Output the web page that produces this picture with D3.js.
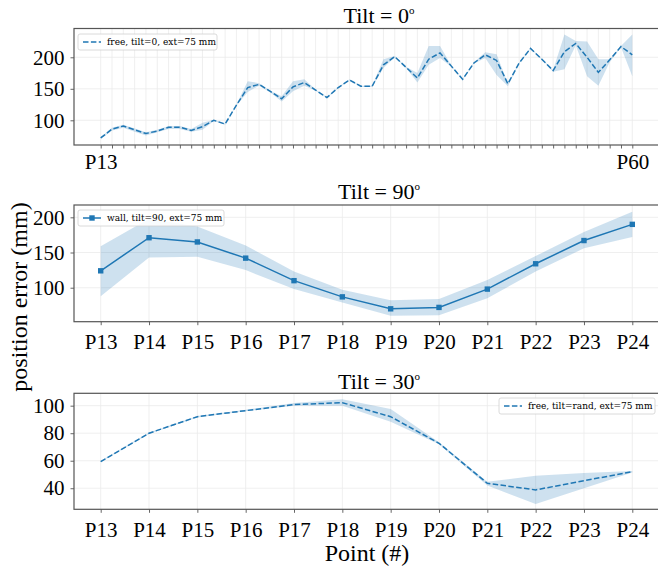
<!DOCTYPE html>
<html>
<head>
<meta charset="utf-8">
<script src="https://cdn.jsdelivr.net/npm/d3@7/dist/d3.min.js"></script>
<style>
  body { margin: 0; background: #fff; }
  svg { display: block; }
</style>
</head>
<body>
<svg id="chart" width="658" height="571"></svg>
<script>
"use strict";

// ---- data -------------------------------------------------------------
const pointsLong = ["P13","P14","P15","P16","P17","P18","P19","P20","P21","P22","P23","P24",
  "P25","P26","P27","P28","P29","P30","P31","P32","P33","P34","P35","P36",
  "P37","P38","P39","P40","P41","P42","P43","P44","P45","P46","P47","P48",
  "P49","P50","P51","P52","P53","P54","P55","P56","P57","P58","P59","P60"];
const pointsShort = ["P13","P14","P15","P16","P17","P18","P19","P20","P21","P22","P23","P24"];

// Tilt = 0 (free, dashed)
const tilt0Mean = [72, 86, 91, 85, 79, 83, 89, 89, 84, 90, 100, 94,
  124, 152, 157, 146, 134, 153, 160, 148, 136, 152, 164, 154,
  154, 188, 201, 184, 167, 197, 207, 186, 165, 191, 204, 195,
  158, 191, 214, 197, 179, 209, 222, 200, 176, 196, 217, 204];
const tilt0Lo = [70.5, 84, 88, 82, 76, 81, 86, 86, 82, 85, 99, 93,
  123, 145, 155, 144, 130, 146, 155, 147, 135, 151, 163, 153,
  153, 183, 200, 183, 160, 188, 199, 185, 164, 190, 199, 172,
  154, 190, 213, 196, 177, 181, 219, 170, 155, 192, 216, 170];
const tilt0Hi = [73, 88, 93, 87, 81, 85, 91, 91, 86, 96, 101, 95,
  125, 162, 159, 147, 138, 162, 165, 149, 137, 153, 165, 155,
  155, 197, 202, 185, 175, 218, 218, 187, 166, 192, 208, 205,
  159, 192, 215, 198, 180, 236, 226, 225, 197, 197, 218, 236];

// Tilt = 90 (wall, squares)
const tilt90Mean = [124, 171, 165, 142, 110, 87, 70, 72, 98, 134, 167, 190];
const tilt90Lo = [88, 143, 144, 125, 98, 79, 60, 61, 85, 123, 156, 172];
const tilt90Hi = [159, 198, 187, 160, 123, 97, 82, 84, 111, 145, 179, 208];

// Tilt = 30 (free, random tilt, dashed)
const tilt30Mean = [59.3, 80, 92, 96.4, 100.8, 102.2, 92, 72.7, 43.6, 38.8, 45.5, 52];
const tilt30Lo = [59, 79.5, 91.5, 96, 100, 100, 88.4, 72, 42, 28.6, 40, 51.5];
const tilt30Hi = [60, 80.5, 92.5, 97, 102, 104.7, 97.5, 73.5, 44.8, 49, 51, 52.5];

const yTicks0 = [100, 150, 200];
const yTicks90 = [100, 150, 200];
const yTicks30 = [40, 60, 80, 100];

// ---- style ------------------------------------------------------------
const BLUE = "#1f77b4";
const SERIF = "'Liberation Serif', 'Times New Roman', serif";
const LEGEND_FONT = "'DejaVu Serif', serif";
const SPINE = "#555";
const GRID = "#ebebeb";
const X_LEFT = 74, X_RIGHT = 660;

const svg = d3.select("#chart");

function drawPanel(p) {
  const g = svg.append("g");
  const x = d3.scalePoint().domain(p.cats).range([100.7, 632.3]);
  const y = d3.scaleLinear().domain(p.yDomain).range([p.bottom, p.top]);

  const clipId = "clip-" + p.id;
  svg.append("clipPath").attr("id", clipId)
    .append("rect")
    .attr("x", X_LEFT).attr("y", p.top)
    .attr("width", X_RIGHT - X_LEFT).attr("height", p.bottom - p.top);

  // grid
  g.append("g").selectAll("line").data(p.cats).join("line")
    .attr("x1", d => x(d)).attr("x2", d => x(d))
    .attr("y1", p.top).attr("y2", p.bottom)
    .attr("stroke", GRID).attr("stroke-width", 0.8);
  g.append("g").selectAll("line").data(p.yTicks).join("line")
    .attr("x1", X_LEFT).attr("x2", X_RIGHT)
    .attr("y1", d => y(d)).attr("y2", d => y(d))
    .attr("stroke", GRID).attr("stroke-width", 0.8);

  const plot = g.append("g").attr("clip-path", `url(#${clipId})`);

  // error band
  const area = d3.area()
    .x((d, i) => x(p.cats[i]))
    .y0((d, i) => y(p.lo[i]))
    .y1((d, i) => y(p.hi[i]));
  plot.append("path").datum(p.mean)
    .attr("d", area)
    .attr("fill", BLUE).attr("fill-opacity", 0.22);

  // mean line
  const line = d3.line().x((d, i) => x(p.cats[i])).y(d => y(d));
  plot.append("path").datum(p.mean)
    .attr("d", line)
    .attr("fill", "none")
    .attr("stroke", BLUE).attr("stroke-width", 1.5)
    .attr("stroke-dasharray", p.dashed ? "5.5,2.4" : null);

  if (p.markers) {
    plot.selectAll("rect").data(p.mean).join("rect")
      .attr("x", (d, i) => x(p.cats[i]) - 2.7)
      .attr("y", d => y(d) - 2.7)
      .attr("width", 5.4).attr("height", 5.4)
      .attr("fill", BLUE);
  }

  // axes
  const xAxis = d3.axisBottom(x).tickSize(3.5).tickPadding(p.xPad)
    .tickFormat((d, i) => p.showLabel(i) ? d : "");
  const gx = g.append("g").attr("transform", `translate(0,${p.bottom})`).call(xAxis);
  const yAxis = d3.axisLeft(y).tickValues(p.yTicks).tickSize(3.5).tickPadding(6);
  const gy = g.append("g").attr("transform", `translate(${X_LEFT},0)`).call(yAxis);

  [gx, gy].forEach(ax => {
    ax.select(".domain").remove();
    ax.selectAll(".tick line").attr("stroke", SPINE).attr("stroke-width", 0.9);
    ax.selectAll(".tick text")
      .attr("fill", "#000")
      .style("font-family", SERIF)
      .style("font-size", "21px");
  });

  // spines
  g.append("rect")
    .attr("x", X_LEFT).attr("y", p.top)
    .attr("width", X_RIGHT - X_LEFT).attr("height", p.bottom - p.top)
    .attr("fill", "none").attr("stroke", SPINE).attr("stroke-width", 1.2);

  // title, degree sign drawn as a superscript o
  const t = g.append("text")
    .attr("x", 379).attr("y", p.top - p.titlePad)
    .attr("text-anchor", "middle")
    .style("font-family", SERIF).style("font-size", "22px");
  t.append("tspan").text(p.title);
  t.append("tspan").attr("dy", -9).style("font-size", "11px").text("o");

  // legend
  const lg = g.append("g").attr("transform", `translate(${p.legend.x},${p.legend.y})`);
  lg.append("rect")
    .attr("width", p.legend.w).attr("height", 16).attr("rx", 2)
    .attr("fill", "#fff").attr("fill-opacity", 0.85)
    .attr("stroke", "#d0d0d0").attr("stroke-width", 0.8);
  lg.append("line")
    .attr("x1", 5).attr("x2", 23).attr("y1", 8).attr("y2", 8)
    .attr("stroke", BLUE).attr("stroke-width", 1.5)
    .attr("stroke-dasharray", p.dashed ? "5.5,2.4" : null);
  if (p.markers) {
    lg.append("rect").attr("x", 11.3).attr("y", 5.3)
      .attr("width", 5.4).attr("height", 5.4).attr("fill", BLUE);
  }
  lg.append("text")
    .attr("x", 29).attr("y", 11.3)
    .style("font-family", LEGEND_FONT).style("font-size", "9px")
    .text(p.legend.label);
}

drawPanel({
  id: "t0", cats: pointsLong, mean: tilt0Mean, lo: tilt0Lo, hi: tilt0Hi,
  top: 28.5, bottom: 145, yDomain: [60.8, 245.7], yTicks: yTicks0,
  dashed: true, markers: false, xPad: 6,
  showLabel: i => i === 0 || i === pointsLong.length - 1,
  title: "Tilt = 0", titlePad: 6,
  legend: { x: 78, y: 34, w: 139, label: "free, tilt=0, ext=75 mm" }
});

drawPanel({
  id: "t90", cats: pointsShort, mean: tilt90Mean, lo: tilt90Lo, hi: tilt90Hi,
  top: 205, bottom: 321.7, yDomain: [51.7, 217.5], yTicks: yTicks90,
  dashed: false, markers: true, xPad: 9,
  showLabel: () => true,
  title: "Tilt = 90", titlePad: 6,
  legend: { x: 78, y: 210, w: 146, label: "wall, tilt=90, ext=75 mm" }
});

drawPanel({
  id: "t30", cats: pointsShort, mean: tilt30Mean, lo: tilt30Lo, hi: tilt30Hi,
  top: 393.3, bottom: 509.3, yDomain: [24.7, 109], yTicks: yTicks30,
  dashed: true, markers: false, xPad: 9,
  showLabel: () => true,
  title: "Tilt = 30", titlePad: 4,
  legend: { x: 499, y: 398, w: 156, label: "free, tilt=rand, ext=75 mm" }
});

// shared axis labels
svg.append("text")
  .attr("transform", "translate(27,297) rotate(-90)")
  .attr("text-anchor", "middle")
  .style("font-family", SERIF).style("font-size", "24px")
  .text("position error (mm)");

svg.append("text")
  .attr("x", 367).attr("y", 561)
  .attr("text-anchor", "middle")
  .style("font-family", SERIF).style("font-size", "24px")
  .text("Point (#)");
</script>
</body>
</html>
